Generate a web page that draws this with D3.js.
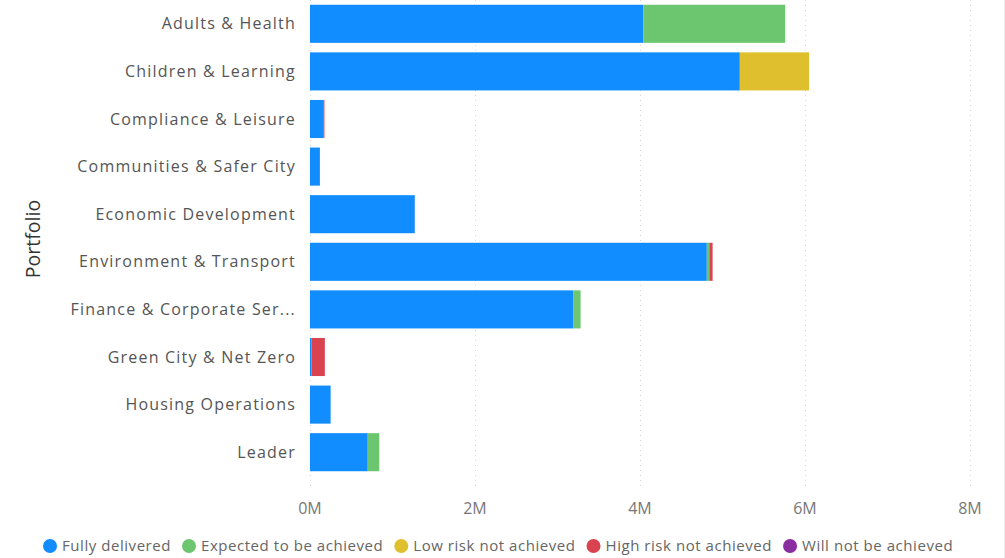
<!DOCTYPE html>
<html>
<head>
<meta charset="utf-8">
<script src="https://cdn.jsdelivr.net/npm/d3@7"></script>
<style>
  html, body { margin: 0; padding: 0; background: #fff; }
  svg { display: block; font-family: "Open Sans", "Noto Sans", sans-serif; }
</style>
</head>
<body>
<svg id="chart" width="1005" height="558"></svg>
<script>
// Portfolios (y axis categories)
const portfolios = [
  "Adults & Health",
  "Children & Learning",
  "Compliance & Leisure",
  "Communities & Safer City",
  "Economic Development",
  "Environment & Transport",
  "Finance & Corporate Services",
  "Green City & Net Zero",
  "Housing Operations",
  "Leader"
];

// Delivery status series
const statuses = [
  "Fully delivered",
  "Expected to be achieved",
  "Low risk not achieved",
  "High risk not achieved",
  "Will not be achieved"
];
const statusColors = ["#118DFF", "#6CC670", "#E0BF2E", "#D9434F", "#8A2DA0"];

// Values in millions, one array per status, in portfolio order
const fullyDelivered      = [4.04, 5.21, 0.16, 0.12, 1.27, 4.81, 3.19, 0.02, 0.25, 0.70];
const expectedAchieved    = [1.72, 0.00, 0.00, 0.00, 0.00, 0.03, 0.09, 0.00, 0.00, 0.14];
const lowRiskNotAchieved  = [0.00, 0.84, 0.00, 0.00, 0.00, 0.00, 0.00, 0.00, 0.00, 0.00];
const highRiskNotAchieved = [0.00, 0.00, 0.015, 0.00, 0.00, 0.04, 0.00, 0.16, 0.00, 0.00];
const willNotBeAchieved   = [0.00, 0.00, 0.00, 0.00, 0.00, 0.00, 0.00, 0.00, 0.00, 0.00];

const xTicks = [0, 2, 4, 6, 8];

const seriesValues = [fullyDelivered, expectedAchieved, lowRiskNotAchieved, highRiskNotAchieved, willNotBeAchieved];
const rows = portfolios.map((p, i) => {
  const r = { portfolio: p };
  statuses.forEach((s, k) => { r[s] = seriesValues[k][i]; });
  return r;
});

const svg = d3.select("#chart");
const plotLeft = 310, plotRight = 970, plotTop = 0, plotBottom = 476;

const x = d3.scaleLinear().domain([0, 8]).range([plotLeft, plotRight]);
const y = d3.scaleBand().domain(portfolios).range([plotTop, plotBottom]).paddingInner(0.2).paddingOuter(0.1);
const color = d3.scaleOrdinal().domain(statuses).range(statusColors);

// Dotted vertical gridlines
svg.append("g")
  .selectAll("line")
  .data(xTicks)
  .join("line")
  .attr("x1", d => x(d) + 0.5)
  .attr("x2", d => x(d) + 0.5)
  .attr("y1", plotTop)
  .attr("y2", plotBottom + 14)
  .attr("stroke", "#d6d6d6")
  .attr("stroke-width", 1)
  .attr("stroke-dasharray", "1,4");

// Stacked bars
const stacked = d3.stack().keys(statuses)(rows);
svg.append("g")
  .selectAll("g")
  .data(stacked)
  .join("g")
  .attr("fill", d => color(d.key))
  .selectAll("rect")
  .data(d => d)
  .join("rect")
  .attr("x", d => x(d[0]))
  .attr("y", d => y(d.data.portfolio))
  .attr("width", d => Math.max(0, x(d[1]) - x(d[0])))
  .attr("height", y.bandwidth());

// Category axis labels (truncated when too long)
const maxLabelWidth = 228;
const yLabels = svg.append("g")
  .selectAll("text")
  .data(portfolios)
  .join("text")
  .attr("x", 296)
  .attr("y", d => y(d) + y.bandwidth() / 2)
  .attr("dy", "0.35em")
  .attr("text-anchor", "end")
  .attr("fill", "#555")
  .attr("font-size", 16)
  .attr("letter-spacing", 1.2)
  .text(d => d);
yLabels.each(function(d) {
  const t = d3.select(this);
  if (this.getComputedTextLength() > maxLabelWidth) {
    let s = d;
    while (s.length > 1) {
      s = s.slice(0, -1);
      t.text(s.trimEnd() + "...");
      if (this.getComputedTextLength() <= maxLabelWidth) break;
    }
  }
});

// Value axis tick labels
svg.append("g")
  .selectAll("text")
  .data(xTicks)
  .join("text")
  .attr("x", d => x(d))
  .attr("y", 508)
  .attr("dy", "0.35em")
  .attr("text-anchor", "middle")
  .attr("fill", "#777")
  .attr("font-size", 16)
  .text(d => d + "M");

// Axis title
svg.append("text")
  .attr("transform", "translate(33,239) rotate(-90)")
  .attr("dy", "0.35em")
  .attr("text-anchor", "middle")
  .attr("fill", "#333")
  .attr("font-size", 19.5)
  .text("Portfolio");

// Legend
const legend = svg.append("g").attr("transform", "translate(0,546)");
let lx = 43;
statuses.forEach((s, k) => {
  const g = legend.append("g").attr("transform", `translate(${lx},0)`);
  g.append("circle").attr("cx", 7).attr("cy", 0).attr("r", 7).attr("fill", statusColors[k]);
  const t = g.append("text")
    .attr("x", 19)
    .attr("dy", "0.35em")
    .attr("fill", "#666")
    .attr("font-size", 15)
    .attr("letter-spacing", 0.55)
    .text(s);
  lx += 19 + t.node().getComputedTextLength() + 11;
});

// Faint right edge line
svg.append("line")
  .attr("x1", 1004.5).attr("x2", 1004.5)
  .attr("y1", 0).attr("y2", 558)
  .attr("stroke", "#eeeeee");
</script>
</body>
</html>
